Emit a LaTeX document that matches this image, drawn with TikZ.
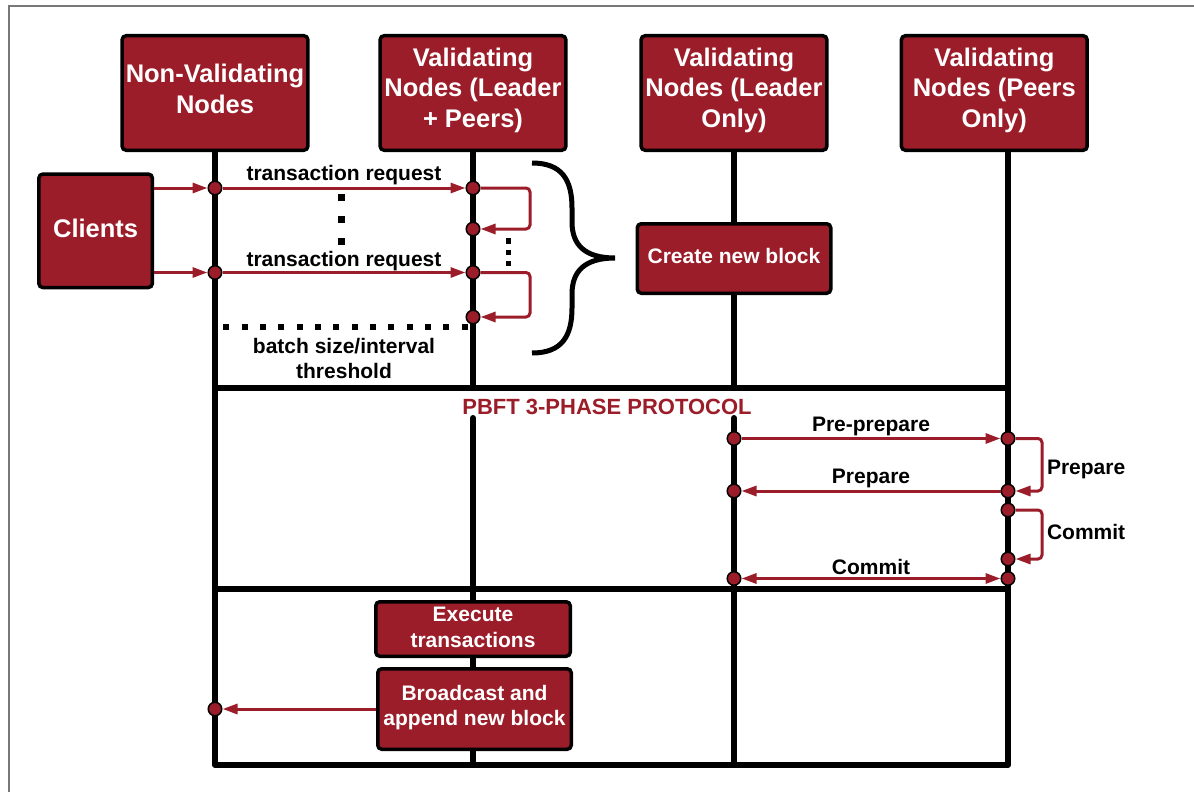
\documentclass[tikz,border=0pt]{standalone}
\usepackage{fontspec}
\setmainfont{Liberation Sans}
\usetikzlibrary{arrows.meta}
\definecolor{blockred}{RGB}{155,29,41}
\definecolor{framegray}{RGB}{120,120,120}
\pgfdeclarelayer{bg}
\pgfsetlayers{bg,main}

\begin{document}
\begin{tikzpicture}[x=1pt,y=-1pt,
  box/.style={draw=black, line width=3.5pt, fill=blockred, rounded corners=4pt,
    text=white, align=center, inner sep=2pt},
  % extra depth under the last line sets the text a little above centre
  lift/.style={execute at end node={\rule[-#1]{0pt}{#1}}},
  header/.style={box, minimum width=185.8pt, minimum height=114.5pt,
    font=\fontsize{25.5}{30.5}\selectfont\bfseries},
  dot/.style={circle, draw=black, line width=1.5pt, fill=blockred,
    minimum size=13.5pt, inner sep=0pt},
  life/.style={line width=6pt, line cap=round, line join=round},
  msg/.style={draw=blockred, line width=3pt, -{Triangle[length=15pt,width=10pt]}},
  bothmsg/.style={draw=blockred, line width=3pt,
    {Triangle[length=15pt,width=10pt]}-{Triangle[length=15pt,width=10pt]}},
  loopmsg/.style={msg, rounded corners=4pt},
  lbl/.style={font=\fontsize{21}{25}\selectfont\bfseries, inner sep=0pt, anchor=base},
  ]
\useasboundingbox (0,0) rectangle (1194,792);

% page frame
\draw[framegray, line width=2pt] (9,792) -- (9,5.7) -- (1194,5.7);

% participant headers
\node[header, lift=8pt]    (nv) at (215,93)   {Non-Validating\\Nodes};
\node[header, lift=10.5pt] (lp) at (473,93)   {Validating\\Nodes (Leader\\+ Peers)};
\node[header, lift=10.5pt] (lo) at (734,93)   {Validating\\Nodes (Leader\\Only)};
\node[header, lift=10.5pt] (po) at (994.3,93) {Validating\\Nodes (Peers\\Only)};

% activity boxes
\node[box, lift=6pt, minimum width=113.5pt, minimum height=113.5pt,
  font=\fontsize{25.5}{30.5}\selectfont\bfseries] (clients) at (95.6,230.8) {Clients};
\node[box, lift=6pt, minimum width=193.5pt, minimum height=69.5pt,
  font=\fontsize{21}{25}\selectfont\bfseries] (create) at (734,258.5) {Create new block};
\node[box, lift=4pt, minimum width=194.5pt, minimum height=54.5pt,
  font=\fontsize{21}{26}\selectfont\bfseries] (exec) at (473,629) {Execute\\transactions};
\node[box, lift=7.5pt, minimum width=193.5pt, minimum height=80.5pt,
  font=\fontsize{21}{25.5}\selectfont\bfseries] (bcast) at (474.5,709) {Broadcast and\\append new block};

% lifeline corners and breaks
\coordinate (nvbot) at (215,765);
\coordinate (pobot) at (1008,765);
\coordinate (potop) at (1008,152);
\coordinate (pA)  at (215,388);
\coordinate (pB)  at (1008,388);
\coordinate (cA)  at (215,589);
\coordinate (cB)  at (1008,589);
\coordinate (lpA) at (473,388);
\coordinate (lpB) at (473,418);
\coordinate (lpC) at (473,765);
\coordinate (loA) at (734,388);
\coordinate (loB) at (734,418);
\coordinate (loC) at (734,765);

\begin{pgfonlayer}{bg}
  \draw[life] (nv.south) -- (nvbot) -- (pobot) -- (potop);
  \draw[life] (pA) -- (pB);
  \draw[life] (cA) -- (cB);
  \draw[life] (lp.south) -- (lpA);
  \draw[life] (lpB) -- (lpC);
  \draw[life] (lo.south) -- (create.north);
  \draw[life] (create.south) -- (loA);
  \draw[life] (loB) -- (loC);
  % batch threshold marker
  \draw[line width=6.5pt, dash pattern=on 6pt off 12.33pt] (223.4,327) -- (473,327);
\end{pgfonlayer}

% message points on the lifelines
\node[dot] (a1) at (215,188) {};
\node[dot] (a2) at (215,272.5) {};
\node[dot] (b1) at (473,188) {};
\node[dot] (b2) at (473,229) {};
\node[dot] (b3) at (473,272.5) {};
\node[dot] (b4) at (473,317) {};
\node[dot] (c1) at (734,438.5) {};
\node[dot] (c2) at (734,491) {};
\node[dot] (c3) at (734,578.5) {};
\node[dot] (e1) at (1008,438.5) {};
\node[dot] (e2) at (1008,491) {};
\node[dot] (e3) at (1008,510) {};
\node[dot] (e4) at (1008,559) {};
\node[dot] (e5) at (1008,578.5) {};
\node[dot] (f1) at (215,709) {};

% requests from clients
\draw[msg] (clients.east |- a1) -- (a1);
\draw[msg] (clients.east |- a2) -- (a2);
\draw[msg] (a1) -- node[lbl, yshift=8pt] {transaction request} (b1);
\draw[msg] (a2) -- node[lbl, yshift=6pt] {transaction request} (b3);
\draw[loopmsg] (b1) -- ++(57,0) |- (b2);
\draw[loopmsg] (b3) -- ++(57,0) |- (b4);

% ellipsis marks
\draw[line width=6.5pt, dash pattern=on 6.5pt off 15.5pt] (341.5,194.25) -- (341.5,245);
\draw[line width=5.3pt, dash pattern=on 5.3pt off 6pt] (508.3,238.3) -- (508.3,266.5);

\node[lbl, anchor=north, align=center, font=\fontsize{21}{25}\selectfont\bfseries]
  (batch) at (344,338) {batch size/interval\\threshold};

% brace grouping the batch
\draw[line width=5pt] (532,163) .. controls (562,163) and (572,180) .. (572,208)
  -- (572,222) .. controls (572,245) and (585,258) .. (615,258)
  .. controls (585,258) and (572,271) .. (572,294)
  -- (572,308) .. controls (572,336) and (562,353) .. (532,353);

% consensus phase
\node[lbl, text=blockred, font=\fontsize{22}{26}\selectfont\bfseries]
  (pbft) at (607,414) {PBFT 3-PHASE PROTOCOL};

\draw[msg] (c1) -- node[lbl, yshift=7pt] {Pre-prepare} (e1);
\draw[msg] (e2) -- node[lbl, yshift=8pt] {Prepare} (c2);
\draw[bothmsg] (c3) -- node[lbl, yshift=4pt] {Commit} (e5);
\draw[loopmsg] (e1) -- ++(34,0) |-
  node[lbl, anchor=base west, pos=0.25, xshift=3.5pt, yshift=-9.5pt] {Prepare} (e2);
\draw[loopmsg] (e3) -- ++(34,0) |-
  node[lbl, anchor=base west, pos=0.25, xshift=3.5pt, yshift=-4.5pt] {Commit} (e4);

% block broadcast
\draw[msg] (bcast) -- (f1);
\end{tikzpicture}
\end{document}
